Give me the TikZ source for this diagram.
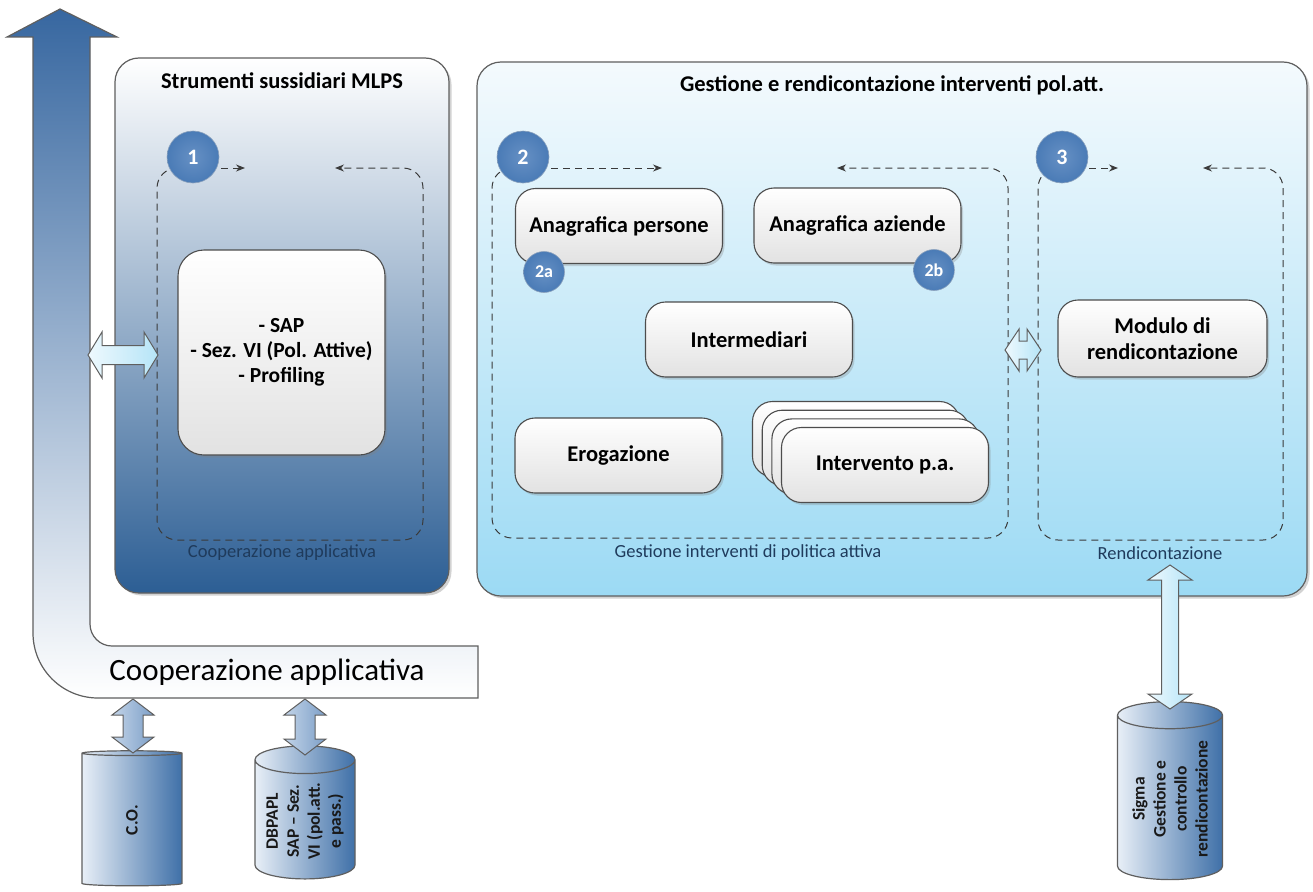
\documentclass[tikz,border=0pt]{standalone}
\usepackage{fontspec}
\setmainfont{Carlito}
\usetikzlibrary{shapes.geometric,shadows,arrows.meta,calc}
\definecolor{edge}{HTML}{5F5F5F}
\definecolor{boxedge}{HTML}{4D4D4D}
\definecolor{boxbot}{HTML}{E2E2E2}
\definecolor{arrtop}{HTML}{3767A0}
\definecolor{arrmid}{HTML}{86A6CB}
\definecolor{lpmid}{HTML}{AEC3DC}
\definecolor{lpbot}{HTML}{2C5E94}
\definecolor{rptop}{HTML}{F4FAFD}
\definecolor{rpmid}{HTML}{D0EEFA}
\definecolor{rpbot}{HTML}{9CDAF4}
\definecolor{numfill}{HTML}{4A7BB6}
\definecolor{numin}{HTML}{6690C4}
\definecolor{lighttop}{HTML}{EEF9FE}
\definecolor{lightbot}{HTML}{B5E4F7}
\definecolor{cotop}{HTML}{C3D4E8}
\definecolor{cobot}{HTML}{7C9FC8}
\definecolor{cylL}{HTML}{E8EFF7}
\definecolor{cylR}{HTML}{3F70A8}
\definecolor{lbltext}{HTML}{1F3B5C}
\definecolor{dashc}{HTML}{3A3A3A}
\newcommand\fatV[6]{%
  \path[#1] let \p1=(#2), \p2=(#3) in
    (\x1,\y1) -- (\x1+#5pt,\y1-#4pt) -- (\x1+#6pt,\y1-#4pt) -- (\x1+#6pt,\y2+#4pt)
    -- (\x1+#5pt,\y2+#4pt) -- (\x1,\y2) -- (\x1-#5pt,\y2+#4pt) -- (\x1-#6pt,\y2+#4pt)
    -- (\x1-#6pt,\y1-#4pt) -- (\x1-#5pt,\y1-#4pt) -- cycle;}
\newcommand\fatH[6]{%
  \path[#1] let \p1=(#2), \p2=(#3) in
    (\x1,\y1) -- (\x1+#4pt,\y1+#5pt) -- (\x1+#4pt,\y1+#6pt) -- (\x2-#4pt,\y1+#6pt)
    -- (\x2-#4pt,\y1+#5pt) -- (\x2,\y1) -- (\x2-#4pt,\y1-#5pt) -- (\x2-#4pt,\y1-#6pt)
    -- (\x1+#4pt,\y1-#6pt) -- (\x1+#4pt,\y1-#5pt) -- cycle;}
\begin{document}
\begin{tikzpicture}[x=1pt,y=-1pt,
  panel/.style={draw=edge, line width=1.2pt, rounded corners=24pt, inner sep=0pt,
    drop shadow={shadow xshift=2.5pt,shadow yshift=-2.5pt,opacity=0.35}},
  ttl/.style={font=\bfseries\fontsize{22.5}{26}\selectfont, text=black},
  box/.style={draw=boxedge, line width=1.1pt, rounded corners=20pt, top color=white,
    bottom color=boxbot, minimum width=207pt, minimum height=75pt, inner sep=2pt,
    font=\bfseries\fontsize{22.5}{26}\selectfont, align=center,
    drop shadow={shadow xshift=2pt,shadow yshift=-2.5pt,opacity=0.3}},
  numc/.style={circle, inner sep=0pt, minimum size=52pt, inner color=numin, outer color=numfill,
    draw=numfill!80!black!60, line width=0.6pt, text=white, font=\bfseries\fontsize{22}{26}\selectfont},
  numsm/.style={numc, minimum size=41pt, font=\bfseries\fontsize{18}{22}\selectfont},
  dl/.style={draw=dashc, line width=1pt, dash pattern=on 7pt off 5pt},
  tip/.style={-{Stealth[length=9pt,width=7pt]}},
  lbl/.style={font=\fontsize{18.5}{22}\selectfont, text=lbltext},
  lightarrH/.style={draw=edge, line width=1pt, left color=lighttop, right color=lightbot},
  coarr/.style={draw=edge, line width=1pt, left color=cotop, right color=cobot},
  cyl/.style={cylinder, rotate=90, draw=edge, line width=1.2pt, aspect=0.35,
    left color=cylL, right color=cylR, inner sep=1pt, align=center, text=black!90,
    font=\bfseries\fontsize{17.5}{21}\selectfont}
]
\fill[white] (0,0) rectangle (1313,891);
\useasboundingbox (0,0) rectangle (1313,891);

% big arrow with bend
\path[draw=edge, line width=1.2pt, top color=arrtop, middle color=arrmid, bottom color=white]
  (33,37) -- (7,37) -- (60,9) -- (117,37) -- (90,37) -- (90,624)
  .. controls (90,636.1) and (99.9,646) .. (112,646) -- (478,646) -- (478,698) -- (98,698)
  .. controls (62.1,698) and (33,668.9) .. (33,633) -- cycle;
\node[font=\fontsize{31}{36}\selectfont] (bar) at (267,672) {Cooperazione applicativa};

% left panel
\node[panel, top color=white, middle color=lpmid, bottom color=lpbot,
  minimum width=334pt, minimum height=535pt] (lp) at (282,325.5) {};
\node[ttl] (lpt) at (282,81) {Strumenti sussidiari MLPS};

% right panel
\node[panel, top color=rptop, middle color=rpmid, bottom color=rpbot,
  minimum width=830pt, minimum height=534pt] (rp) at (892,329) {};
\node[ttl] (rpt) at (892,85) {Gestione e rendicontazione interventi pol.att.};

% dashed frames
\draw[dl, rounded corners=20pt, tip] (190,168) -- (157,168) -- (157,540) -- (423,540) -- (423,168) -- (335,168);
\draw[dl, rounded corners=20pt, tip] (523,168) -- (492,168) -- (492,538) -- (1008,538) -- (1008,168) -- (837,168);
\draw[dl, rounded corners=20pt, tip] (1062,168) -- (1038,168) -- (1038,540) -- (1283,540) -- (1283,168) -- (1203,168);
\draw[dl, tip] (221,168) -- (245,168);
\draw[dl, tip] (551,168) -- (662,168);
\draw[dl, tip] (1089,168) -- (1118,168);

\node[lbl] (l1) at (282,553) {Cooperazione applicativa};
\node[lbl] (l2) at (748,553) {Gestione interventi di politica attiva};
\node[lbl] (l3) at (1160,553) {Rendicontazione};

% boxes
\node[box, minimum height=205pt, rounded corners=26pt, font=\bfseries\fontsize{21.5}{25}\selectfont] (sap) at (281.5,352.5) {- SAP\\- Sez. VI (Pol. Attive)\\- Profiling};
\node[box] (ap) at (619,226) {Anagrafica persone};
\node[box] (az) at (857.5,225.5) {Anagrafica aziende};
\node[box] (im) at (749,339.5) {Intermediari};
\node[box] (er) at (618.5,455.5) {Erogazione};
\node[box] (s1) at (856,439) {};
\node[box] (s2) at (865.7,447.7) {};
\node[box] (s3) at (875.4,456.4) {};
\node[box] (ip) at (885,465) {Intervento p.a.};
\node[box, minimum width=209pt, minimum height=77pt] (mr) at (1162.5,338.5) {Modulo di\\rendicontazione};

% numbered circles
\node[numc] (c1) at (193,157) {1};
\node[numc] (c2) at (523,157) {2};
\node[numc] (c3) at (1062,157) {3};
\node[numsm] (c2a) at (544,272) {2a};
\node[numsm] (c2b) at (934,270) {2b};

% fat double arrows
\coordinate (la1) at (88,355);
\coordinate (la2) at (158,355);
\fatH{lightarrH}{la1}{la2}{14}{23}{9.5}
\coordinate (ma1) at (1005,350);
\coordinate (ma2) at (1041,350);
\fatH{lightarrH}{ma1}{ma2}{14}{21}{9}

% cylinders
\node[cyl, minimum width=100pt, minimum height=135pt] (co) at (132,820) {C.O.};
\node[cyl, minimum width=100pt, minimum height=133pt] (db) at (305,821) {DBPAPL\\SAP – Sez.\\VI (pol.att.\\e pass.)};
\node[cyl, minimum width=105pt, minimum height=178pt] (sg) at (1170,799) {Sigma\\Gestione e\\controllo\\rendicontazione};

\coordinate (coT) at (133,699);
\coordinate (coB) at (133,753);
\fatV{coarr}{coT}{coB}{16}{21}{10}
\coordinate (dbT) at (305,699);
\coordinate (dbB) at (305,755);
\fatV{coarr}{dbT}{dbB}{16}{21}{10}
\coordinate (sgT) at (1170,565);
\coordinate (sgB) at (1170,709);
\fatV{lightarrH}{sgT}{sgB}{15}{22}{8.5}
\end{tikzpicture}
\end{document}
